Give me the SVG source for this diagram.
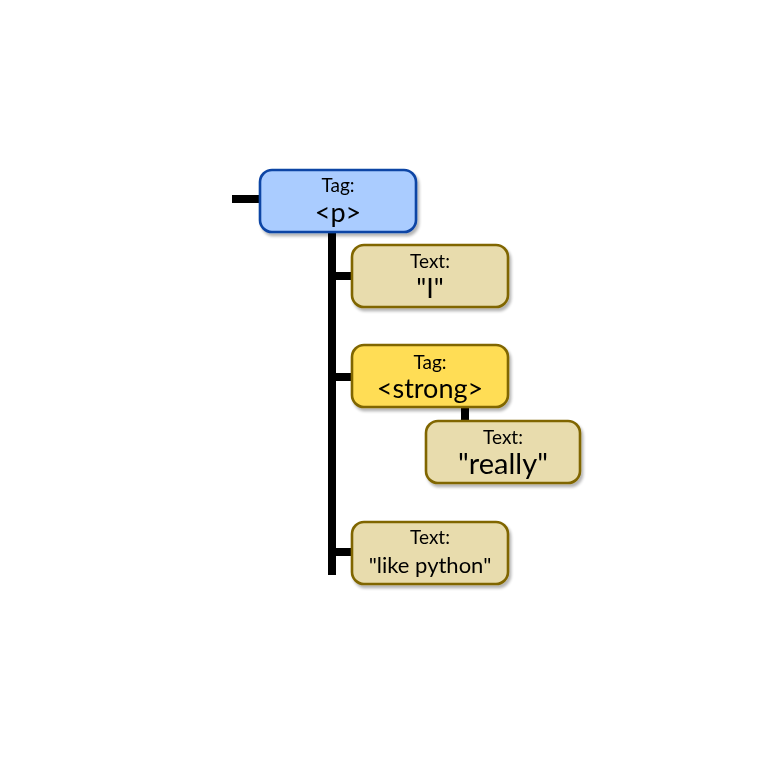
<svg xmlns="http://www.w3.org/2000/svg" width="760" height="764" viewBox="0 0 760 764">
<style>
.box{stroke-width:2.6}
.tag{fill:#aaccff;stroke:#0d45a5}
.txt{fill:#e8dcad;stroke:#806600}
.strong{fill:#ffdd55;stroke:#806600}
.l1{font-family:Lato,"Open Sans",sans-serif;font-size:19px;fill:#000;text-anchor:middle}
.l2{font-family:Lato,"Open Sans",sans-serif;font-size:27px;fill:#000;text-anchor:middle}
.l2s{font-family:Lato,"Open Sans",sans-serif;font-size:22px;fill:#000;text-anchor:middle}
.wire{stroke:#000;stroke-width:8;fill:none}
</style>
<defs>
<filter id="sh" x="-10%" y="-10%" width="130%" height="140%">
<feGaussianBlur in="SourceAlpha" stdDeviation="1.5"/>
<feOffset dx="2" dy="2.5" result="o"/>
<feComponentTransfer><feFuncA type="linear" slope="0.3"/></feComponentTransfer>
<feMerge><feMergeNode/><feMergeNode in="SourceGraphic"/></feMerge>
</filter>
</defs>
<rect width="760" height="764" fill="#fff"/>
<g id="connectors">
<line class="wire" x1="232" y1="199" x2="262" y2="199"/>
<line class="wire" x1="332" y1="230" x2="332" y2="575"/>
<line class="wire" x1="332" y1="276" x2="354" y2="276"/>
<line class="wire" x1="332" y1="377" x2="354" y2="377"/>
<line class="wire" x1="332" y1="552" x2="354" y2="552"/>
<line class="wire" x1="465" y1="406" x2="465" y2="423"/>
</g>
<g id="node-p" filter="url(#sh)">
<rect class="box tag" x="260" y="170" width="156" height="62" rx="12"/>
<text class="l1" x="338" y="192">Tag:</text>
<text class="l2" x="338" y="222">&lt;p&gt;</text>
</g>
<g id="node-text-i" filter="url(#sh)">
<rect class="box txt" x="352" y="245" width="156" height="62" rx="12"/>
<text class="l1" x="430" y="268">Text:</text>
<text class="l2" x="430" y="298">"I"</text>
</g>
<g id="node-strong" filter="url(#sh)">
<rect class="box strong" x="352" y="345" width="156" height="62" rx="12"/>
<text class="l1" x="430" y="369">Tag:</text>
<text class="l2" x="430" y="398">&lt;strong&gt;</text>
</g>
<g id="node-text-really" filter="url(#sh)">
<rect class="box txt" x="426" y="421" width="154" height="62" rx="12"/>
<text class="l1" x="503" y="444">Text:</text>
<text class="l2" x="503" y="474" style="font-size:29px">"really"</text>
</g>
<g id="node-text-like" filter="url(#sh)">
<rect class="box txt" x="352" y="522" width="156" height="62" rx="12"/>
<text class="l1" x="430" y="544">Text:</text>
<text class="l2s" x="430" y="573">"like python"</text>
</g>
</svg>
